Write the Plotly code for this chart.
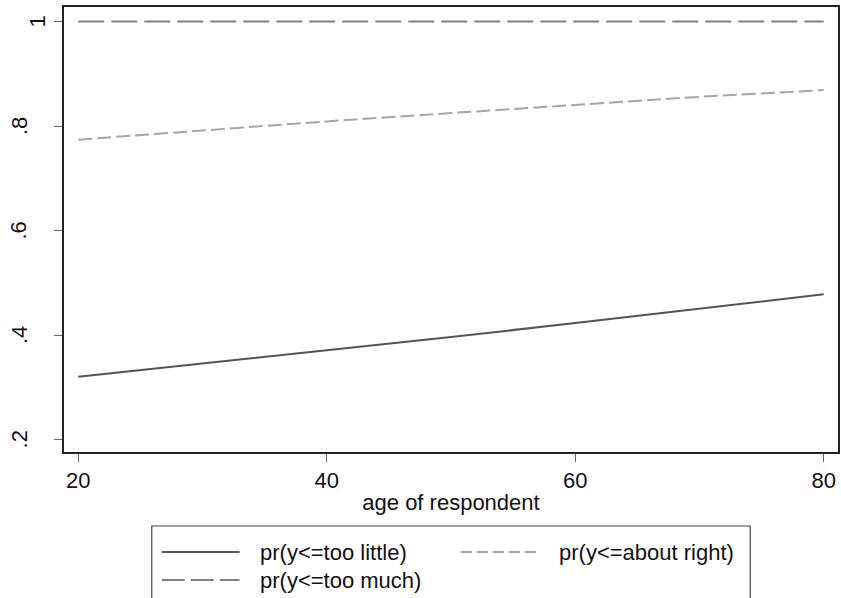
import plotly.graph_objects as go

age = [20, 30, 40, 50, 60, 70, 80]
pr_too_little = [0.320, 0.345, 0.370, 0.396, 0.423, 0.450, 0.478]
pr_about_right = [0.774, 0.792, 0.809, 0.825, 0.841, 0.856, 0.869]
pr_too_much = [1.0, 1.0, 1.0, 1.0, 1.0, 1.0, 1.0]

series_names = ["pr(y<=too little)", "pr(y<=about right)", "pr(y<=too much)"]
x_ticks = [20, 40, 60, 80]
y_ticks = [0.2, 0.4, 0.6, 0.8, 1.0]
y_ticktext = [".2", ".4", ".6", ".8", "1"]

colors = ["#555555", "#a6a6a6", "#808080"]
dashes = ["solid", "14px,5px", "26px,7px"]
FONT = "Liberation Sans, Arial, sans-serif"
FS = 22

fig = go.Figure()
for vals, name, c, d in zip([pr_too_little, pr_about_right, pr_too_much], series_names, colors, dashes):
    fig.add_trace(go.Scatter(x=age, y=vals, mode="lines", name=name,
                             line=dict(color=c, width=2, dash=d), showlegend=False))

W, H = 841, 598
L, R, T, B = 64, 1, 7, 146
pw, ph = W - L - R, H - T - B

def px(x):
    return (x - L) / pw

def py(y):
    return (H - B - y) / ph

# custom legend (Stata-style box below the plot)
shapes = [dict(type="rect", xref="paper", yref="paper", x0=px(152), x1=px(752),
               y0=py(526), y1=py(640), line=dict(color="#444", width=1.2), fillcolor="white")]
annotations = []
legend_pos = [(162, 240, 258, 552), (462, 540, 558, 552), (162, 240, 258, 580)]
legend_dash = ["solid", "11px,5px", "23px,6px"]
for (lx0, lx1, tx, yy), name, c, d in zip(legend_pos, series_names, colors, legend_dash):
    shapes.append(dict(type="line", xref="paper", yref="paper", x0=px(lx0), x1=px(lx1),
                       y0=py(yy), y1=py(yy), line=dict(color=c, width=2, dash=d)))
    annotations.append(dict(xref="paper", yref="paper", x=px(tx), y=py(yy), text=name,
                            showarrow=False, xanchor="left", yanchor="middle",
                            font=dict(family=FONT, size=FS, color="#111")))

# rotated y tick labels (Stata places "1" closer to the axis)
for v, t in zip(y_ticks, y_ticktext):
    xc = 38 if t == "1" else 19
    annotations.append(dict(xref="paper", yref="y", x=0, xshift=xc - L, y=v, text=t,
                            showarrow=False, textangle=-90, xanchor="center",
                            yanchor="middle", font=dict(family=FONT, size=FS, color="#111")))

fig.update_layout(
    width=W, height=H,
    margin=dict(l=L, r=R, t=T, b=B, pad=0),
    paper_bgcolor="white", plot_bgcolor="white",
    font=dict(family=FONT, size=FS, color="#111"),
    shapes=shapes, annotations=annotations,
    showlegend=False,
)
fig.update_xaxes(range=[18.85, 81.15], tickvals=x_ticks, ticks="outside", ticklen=8,
                 tickwidth=1.2, tickcolor="#666", showline=True, linecolor="#222",
                 linewidth=1.5, mirror=True, showgrid=False, zeroline=False,
                 title=dict(text="age of respondent", standoff=2, font=dict(size=FS)),
                 tickfont=dict(size=FS))
fig.update_yaxes(range=[0.176, 1.028], tickvals=y_ticks, showticklabels=False,
                 ticks="outside", ticklen=8, tickwidth=1.2, tickcolor="#666",
                 showline=True, linecolor="#222", linewidth=1.5, mirror=True,
                 showgrid=False, zeroline=False)

fig.write_html("out.html")
